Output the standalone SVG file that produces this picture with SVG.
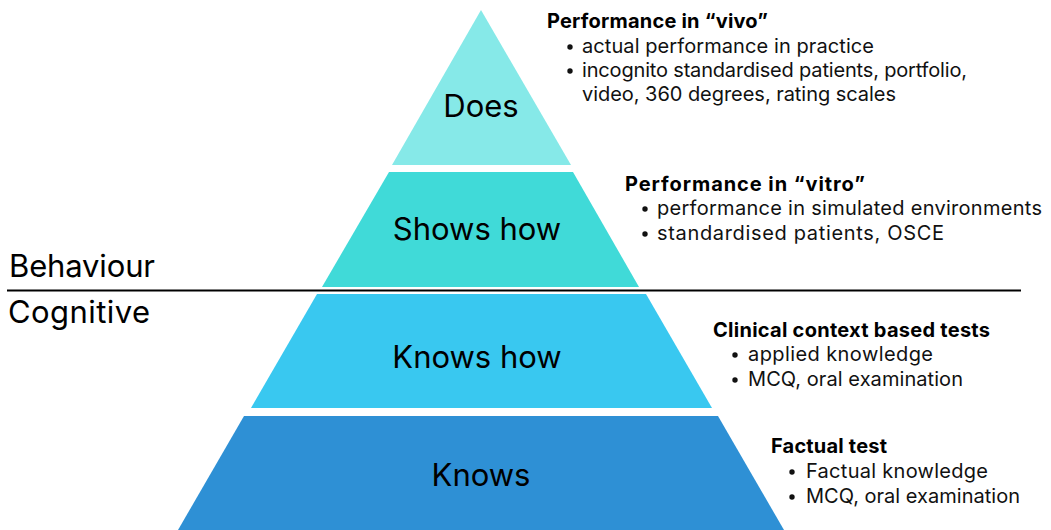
<svg xmlns="http://www.w3.org/2000/svg" width="1051" height="530" viewBox="0 0 1051 530">
<style>
.lbl{font-family:Inter,"Liberation Sans",sans-serif;font-size:31px;fill:#000;text-anchor:middle}
.side{font-family:Inter,"Liberation Sans",sans-serif;font-size:31px;fill:#000}
.hd{font-family:Inter,"Liberation Sans",sans-serif;font-size:20px;font-weight:700;fill:#000}
.bl{font-family:Inter,"Liberation Sans",sans-serif;font-size:20px;fill:#111}
</style>
<rect width="1051" height="530" fill="#fff"/>
<g id="level-does">
<polygon points="481,10 571,165 392,165" fill="#86E9E8"/>
<text class="lbl" x="481" y="117">Does</text>
</g>
<g id="level-shows-how">
<polygon points="389,172 573,172 639,287 322,287" fill="#40DAD8"/>
<text class="lbl" x="477" y="240">Shows how</text>
</g>
<g id="level-knows-how">
<polygon points="317,294 646,294 712,408 251,408" fill="#39C8F0"/>
<text class="lbl" x="477" y="368">Knows how</text>
</g>
<g id="level-knows">
<polygon points="244,416 718,416 784,530 178,530" fill="#2E90D5"/>
<text class="lbl" x="481" y="486">Knows</text>
</g>
<g id="divider">
<line x1="7" y1="290.5" x2="1021" y2="290.5" stroke="#000" stroke-width="2"/>
<text class="side" x="9" y="277" textLength="146">Behaviour</text>
<text class="side" x="8" y="323" textLength="142">Cognitive</text>
</g>
<g id="desc-does">
<text class="hd" x="547" y="28" textLength="221">Performance in “vivo”</text>
<circle cx="570" cy="47" r="2.7" fill="#111"/>
<text class="bl" x="582" y="53" textLength="292">actual performance in practice</text>
<circle cx="570" cy="71" r="2.7" fill="#111"/>
<text class="bl" x="582" y="77" textLength="385">incognito standardised patients, portfolio,</text>
<text class="bl" x="582" y="101" textLength="314">video, 360 degrees, rating scales</text>
</g>
<g id="desc-shows-how">
<text class="hd" x="625" y="191" textLength="240">Performance in “vitro”</text>
<circle cx="645" cy="209" r="2.7" fill="#111"/>
<text class="bl" x="657" y="215" textLength="385">performance in simulated environments</text>
<circle cx="645" cy="234" r="2.7" fill="#111"/>
<text class="bl" x="657" y="240" textLength="287">standardised patients, OSCE</text>
</g>
<g id="desc-knows-how">
<text class="hd" x="713" y="337" textLength="277">Clinical context based tests</text>
<circle cx="735" cy="355" r="2.7" fill="#111"/>
<text class="bl" x="748" y="361" textLength="185">applied knowledge</text>
<circle cx="735" cy="380" r="2.7" fill="#111"/>
<text class="bl" x="748" y="386" textLength="215">MCQ, oral examination</text>
</g>
<g id="desc-knows">
<text class="hd" x="771" y="453" textLength="116">Factual test</text>
<circle cx="792" cy="472" r="2.7" fill="#111"/>
<text class="bl" x="806" y="478" textLength="182">Factual knowledge</text>
<circle cx="792" cy="497" r="2.7" fill="#111"/>
<text class="bl" x="806" y="503" textLength="214">MCQ, oral examination</text>
</g>
</svg>
